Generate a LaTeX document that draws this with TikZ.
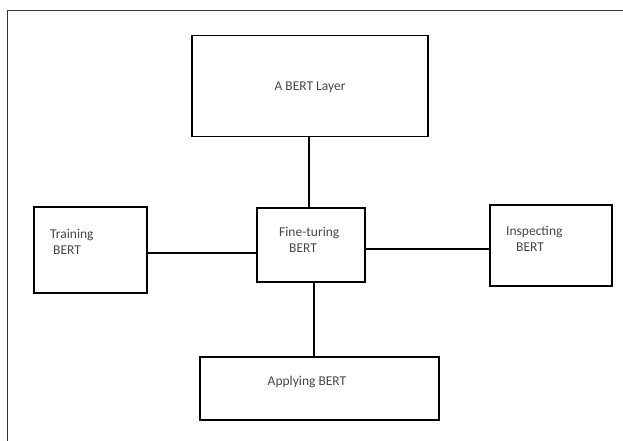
\documentclass[tikz,border=0pt]{standalone}
\usepackage{fontspec}
\setmainfont{Carlito}
\usetikzlibrary{positioning}
\definecolor{T}{RGB}{70, 70, 70}

\tikzset{
  box/.style={draw=black, line width=1.7pt, inner sep=0pt},
  txt/.style={text=T, inner sep=0pt, align=left, font=\fontsize{13.5}{16}\selectfont},
  link/.style={black, line width=1.4pt}
}

\begin{document}
\begin{tikzpicture}[x=1pt, y=-1pt]
  \useasboundingbox (0,0) rectangle (623,441);
  % frame
  \draw[black!80, line width=0.9pt] (7.5,441) -- (7.5,10) -- (623,10);
  % boxes
  \node[box, minimum width=236pt, minimum height=101pt] (layer) at (310,86) {};
  \node[box, minimum width=113pt, minimum height=86pt] (train) at (90.5,250) {};
  \node[box, minimum width=108pt, minimum height=74pt] (fine) at (311,245) {};
  \node[box, minimum width=122pt, minimum height=81pt] (insp) at (551,245.5) {};
  \node[box, minimum width=239pt, minimum height=63pt] (apply) at (319.5,388.5) {};
  % labels
  \node[txt] (layertxt) at (310,87) {A BERT Layer};
  \node[txt, anchor=west] (traintxt) at (50,242) {Training\\\hspace{3pt}BERT};
  \node[txt, anchor=west] (finetxt) at (279,240) {Fine-turing\\\hspace{10pt}BERT};
  \node[txt, anchor=west] (insptxt) at (506,239) {Inspecting\\\hspace{10pt}BERT};
  \node[txt] (applytxt) at (307,382) {Applying BERT};
  % links
  \draw[link] ([xshift=-1pt]layer.south) -- ([xshift=-1pt]layer.south |- fine.north);
  \draw[link] ([yshift=-3pt]train.east) -- ([yshift=-3pt]train.east -| fine.west);
  \draw[link] ([yshift=-4pt]fine.east) -- ([yshift=-4pt]fine.east -| insp.west);
  \draw[link] ([xshift=3pt]fine.south) -- ([xshift=3pt]fine.south |- apply.north);
\end{tikzpicture}
\end{document}
